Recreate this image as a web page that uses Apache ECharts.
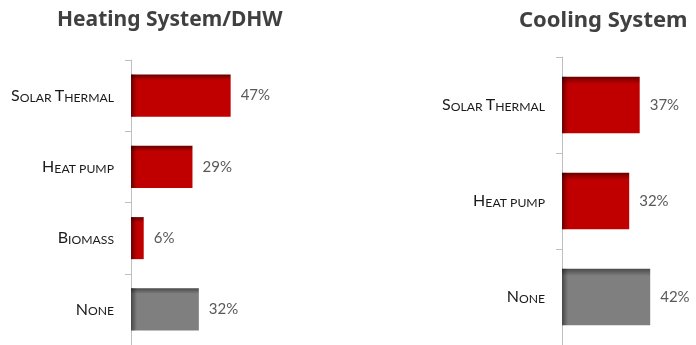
<!DOCTYPE html>
<html>
<head>
<meta charset="utf-8">
<script src="https://cdn.jsdelivr.net/npm/echarts@6/dist/echarts.min.js"></script>
<style>
  html, body { margin: 0; padding: 0; background: #fff; }
  #chart { width: 696px; height: 345px; }
</style>
</head>
<body>
<div id="chart"></div>
<script>
// Share of respondents per technology (percent)
const heatingCategories = ['Solar Thermal', 'Heat pump', 'Biomass', 'None'];
const heatingValues = [47, 29, 6, 32];
const coolingCategories = ['Solar Thermal', 'Heat pump', 'None'];
const coolingValues = [37, 32, 42];
const heatingTitle = 'Heating System/DHW';
const coolingTitle = 'Cooling System';

const RED = '#c00000', RED_DARK = '#6a0000';
const GREY = '#7f7f7f', GREY_DARK = '#4a4a4a';

function vGrad(dark, body) {
  return { type: 'linear', x: 0, y: 0, x2: 0, y2: 1,
    colorStops: [{ offset: 0, color: dark }, { offset: 0.13, color: body }, { offset: 1, color: body }] };
}
// left-edge inner shadow, in pixel coordinates starting at the axis line
function edgeShade(x0) {
  return { type: 'linear', x: x0, y: 0, x2: x0 + 6, y2: 0, global: true,
    colorStops: [{ offset: 0, color: 'rgba(0,0,0,0.45)' }, { offset: 1, color: 'rgba(0,0,0,0)' }] };
}

// Small-caps: capitals drawn large, lowercase drawn as small capitals
function smallCaps(str) {
  let out = '', run = '', cur = null;
  for (const ch of str) {
    const st = (ch !== ch.toLowerCase()) ? 'b' : 's';
    if (st !== cur && run) { out += '{' + cur + '|' + run + '}'; run = ''; }
    cur = st;
    run += ch.toUpperCase();
  }
  if (run) out += '{' + cur + '|' + run + '}';
  return out;
}

const labelFont = 'Lato, "Noto Sans", sans-serif';

function barData(cats, vals) {
  return vals.map((v, i) => {
    const none = cats[i] === 'None';
    return { value: v, itemStyle: { color: none ? vGrad(GREY_DARK, GREY) : vGrad(RED_DARK, RED) } };
  });
}

function yAxisFor(cats, gi) {
  return {
    type: 'category', gridIndex: gi, data: cats, inverse: true,
    axisLine: { show: true, lineStyle: { color: '#bfbfbf', width: 1 } },
    axisTick: { show: true, length: 6, lineStyle: { color: '#bfbfbf' } },
    axisLabel: {
      margin: 17,
      formatter: (v) => smallCaps(v),
      rich: {
        b: { fontSize: 16, fontFamily: labelFont, color: '#1a1a1a', verticalAlign: 'bottom' },
        s: { fontSize: 12.2, fontFamily: labelFont, color: '#1a1a1a', verticalAlign: 'bottom' }
      }
    },
    splitLine: { show: false }
  };
}

function xAxisFor(gi) {
  return { type: 'value', gridIndex: gi, min: 0, max: 50, show: false };
}

function seriesFor(cats, vals, gi, x0) {
  return [
    {
      type: 'bar', xAxisIndex: gi, yAxisIndex: gi,
      data: barData(cats, vals),
      barCategoryGap: '41%',
      label: {
        show: true, position: 'right', distance: 10,
        formatter: '{c}%', fontSize: 15, fontFamily: labelFont, color: '#595959'
      }
    },
    {
      type: 'bar', xAxisIndex: gi, yAxisIndex: gi,
      data: vals, barGap: '-100%', barCategoryGap: '41%', silent: true,
      itemStyle: { color: edgeShade(x0) }
    }
  ];
}

const titleStyle = { fontFamily: '"Noto Sans", sans-serif', fontWeight: 'bold', fontSize: 21, color: '#404040' };

const chart = echarts.init(document.getElementById('chart'), null, { renderer: 'canvas' });
chart.setOption({
  animation: false,
  backgroundColor: '#ffffff',
  title: [
    { text: heatingTitle, left: 57, top: 10, padding: 0, textStyle: titleStyle },
    { text: coolingTitle, left: 519, top: 10, padding: 0, textStyle: Object.assign({}, titleStyle, { fontSize: 22 }) }
  ],
  grid: [
    { left: 131, top: 60, width: 106, height: 290 },
    { left: 562, top: 57, width: 105, height: 290 }
  ],
  xAxis: [xAxisFor(0), xAxisFor(1)],
  yAxis: [yAxisFor(heatingCategories, 0), yAxisFor(coolingCategories, 1)],
  series: [
    ...seriesFor(heatingCategories, heatingValues, 0, 131),
    ...seriesFor(coolingCategories, coolingValues, 1, 562)
  ]
});
</script>
</body>
</html>
